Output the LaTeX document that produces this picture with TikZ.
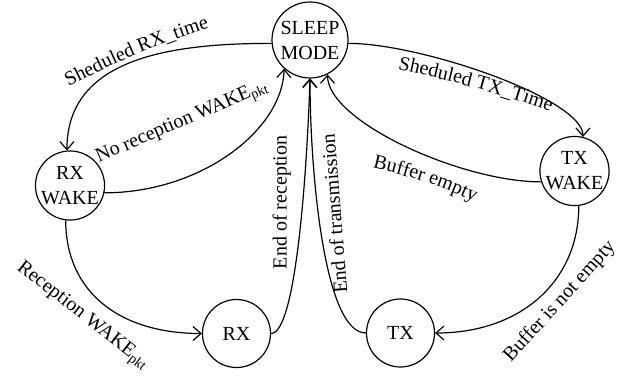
\documentclass[tikz,border=0pt]{standalone}
\usepackage{fontspec}
\setmainfont{Liberation Serif}
\usetikzlibrary{arrows.meta,decorations.text}
\begin{document}
\begin{tikzpicture}[x=0.5pt,y=-0.5pt,
  state/.style={circle,draw,line width=0.6pt,minimum size=34pt,inner sep=0pt,align=center,font=\fontsize{10}{12.5}\selectfont},
  arr/.style={line width=0.6pt,-{Straight Barb[length=4pt,width=7pt]}},
  lab/.style={font=\fontsize{10}{12}\selectfont,inner sep=0pt},
  txtpath/.style={decorate,decoration={text along path,text align=center,text={#1}}}]
\useasboundingbox (0,0) rectangle (622,377);
% states
\node[state,minimum size=38pt] (sleep) at (310,40) {SLEEP\\MODE};
\node[state] (rxwake) at (70,185.5) {RX\\WAKE};
\node[state] (rx) at (236.5,333.5) {RX};
\node[state] (tx) at (400.5,333) {TX};
\node[state] (txwake) at (574.5,171) {TX\\WAKE};
% transitions
\draw[arr] (sleep.185) .. controls +(-102,0) and +(0,-92) .. (rxwake.95);
\draw[arr] (rxwake.-12) .. controls +(96,0) and +(-2,62) .. (sleep.-132);
\draw[arr] (rxwake.-97) .. controls +(0,71) and +(-83,0) .. (rx.west);
\draw[arr] (rx.east) .. controls +(25,0) and +(-3,92) .. (sleep.south);
\draw[arr] (tx.west) .. controls +(-42,0) and +(0,92) .. (sleep.south);
\draw[arr] (sleep.-5) .. controls +(73,0) and +(0,-38) .. (txwake.76);
\draw[arr] (txwake.198) .. controls +(-80,0) and +(0,47) .. (sleep.-63);
\draw[arr] (txwake.-83) .. controls +(0,75) and +(86,0) .. (tx.east);
% labels following curves
\path[txtpath={Sheduled RX{\_}time}] (57,93) .. controls (113,63) and (161,42.5) .. (222,24);
\path[txtpath={Sheduled TX{\_}Time}] (386,67) .. controls (449,80) and (502,93.5) .. (562,115.5);
\path[txtpath={Buffer empty}] (363,165.5) .. controls (400,174) and (440,184) .. (483,206);
% straight labels
\node[lab,rotate=23.3,anchor=base] (l2) at (184,126) {No reception WAKE\textsubscript{pkt}};
\node[lab,rotate=-38,anchor=base] (l3) at (80.5,319.3) {Reception WAKE\textsubscript{pkt}};
\node[lab,rotate=90,anchor=base] (l4) at (286.5,202.5) {End of reception};
\node[lab,rotate=94.6,anchor=base] (l5) at (341,213) {End of transmission};
\node[lab,rotate=47.7,anchor=base] (l8) at (563.5,305) {Buffer is not empty};
\end{tikzpicture}
\end{document}
